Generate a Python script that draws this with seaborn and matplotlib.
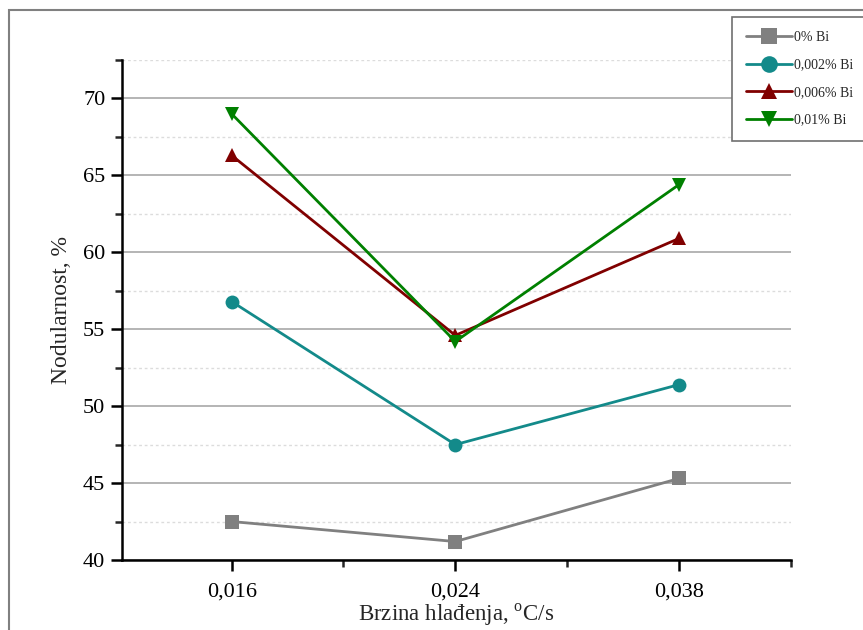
import pandas as pd
import numpy as np
import matplotlib.pyplot as plt
import matplotlib.patches as mpatches
from matplotlib.ticker import MultipleLocator, FixedLocator
import seaborn as sns

  #DATA
brzina = ["0,016", "0,024", "0,038"]
serije = ["0% Bi", "0,002% Bi", "0,006% Bi", "0,01% Bi"]
bi_0 = [42.5, 41.2, 45.3]
bi_0002 = [56.8, 47.5, 51.4]
bi_0006 = [66.3, 54.6, 60.9]
bi_001 = [69.0, 54.2, 64.4]

df = pd.DataFrame({
    "brzina": brzina * 4,
    "serija": np.repeat(serije, 3),
    "nodularnost": bi_0 + bi_0002 + bi_0006 + bi_001,
})

sns.set_style("white")
plt.rcParams["font.family"] = ["Liberation Serif", "DejaVu Serif"]
plt.rcParams["mathtext.fontset"] = "custom"
plt.rcParams["mathtext.rm"] = "Liberation Serif"

boje = {"0% Bi": "#808080", "0,002% Bi": "#138a8a", "0,006% Bi": "#800000", "0,01% Bi": "#008000"}
markeri = {"0% Bi": "s", "0,002% Bi": "o", "0,006% Bi": "^", "0,01% Bi": "v"}

fig = plt.figure(figsize=(8.63, 6.30), dpi=100)
ax = fig.add_axes([0.1414, 0.1111, 0.775, 0.7937])

sns.lineplot(data=df, x="brzina", y="nodularnost", hue="serija", style="serija",
             palette=boje, markers=markeri, dashes=False, markersize=10,
             markeredgewidth=0, linewidth=2, ax=ax, legend=True)

ax.set_xlim(-0.49, 2.5)
ax.set_ylim(40, 72.5)
ax.yaxis.set_major_locator(MultipleLocator(5))
ax.yaxis.set_minor_locator(MultipleLocator(2.5))
ax.xaxis.set_minor_locator(FixedLocator([0.5, 1.5, 2.5]))
ax.grid(axis="y", which="major", color="#a8a8a8", linewidth=1.2)
ax.grid(axis="y", which="minor", color="#dcdcdc", linewidth=1, linestyle=(0, (2, 2)))
ax.set_axisbelow(True)

for s in ["top", "right"]:
    ax.spines[s].set_visible(False)
for s in ["left", "bottom"]:
    ax.spines[s].set_linewidth(1.8)
    ax.spines[s].set_color("black")
ax.tick_params(which="major", direction="out", length=8, width=1.8, labelsize=16, colors="black", left=True, bottom=True)
ax.tick_params(which="minor", direction="out", length=5, width=1.8, left=True, bottom=True)
ax.tick_params(axis="x", pad=8)
ax.tick_params(axis="y", pad=4)

ax.set_xlabel("Brzina hlađenja, $^{\\mathrm{o}}$C/s", fontsize=16.5, labelpad=0)
ax.set_ylabel("Nodularnost, %", fontsize=17, labelpad=8)

leg = ax.legend(loc="upper left", bbox_to_anchor=(732 / 863, 1 - 17 / 630), bbox_transform=fig.transFigure,
                fontsize=10, handlelength=3.3, labelspacing=1.05, borderpad=1.0, handletextpad=0.15,
                markerscale=1.2, fancybox=False, framealpha=1, edgecolor="#707070", borderaxespad=0)
leg.get_frame().set_linewidth(1.2)
leg.set_title(None)

  #OKVIR SLIKE
fig.patches.append(mpatches.Rectangle((9 / 863, -0.1), 1.2, 1 - 10 / 630 + 0.1, transform=fig.transFigure,
                                      fill=False, edgecolor="#808080", linewidth=1.5, zorder=0))

plt.savefig("out.png", dpi=100)
